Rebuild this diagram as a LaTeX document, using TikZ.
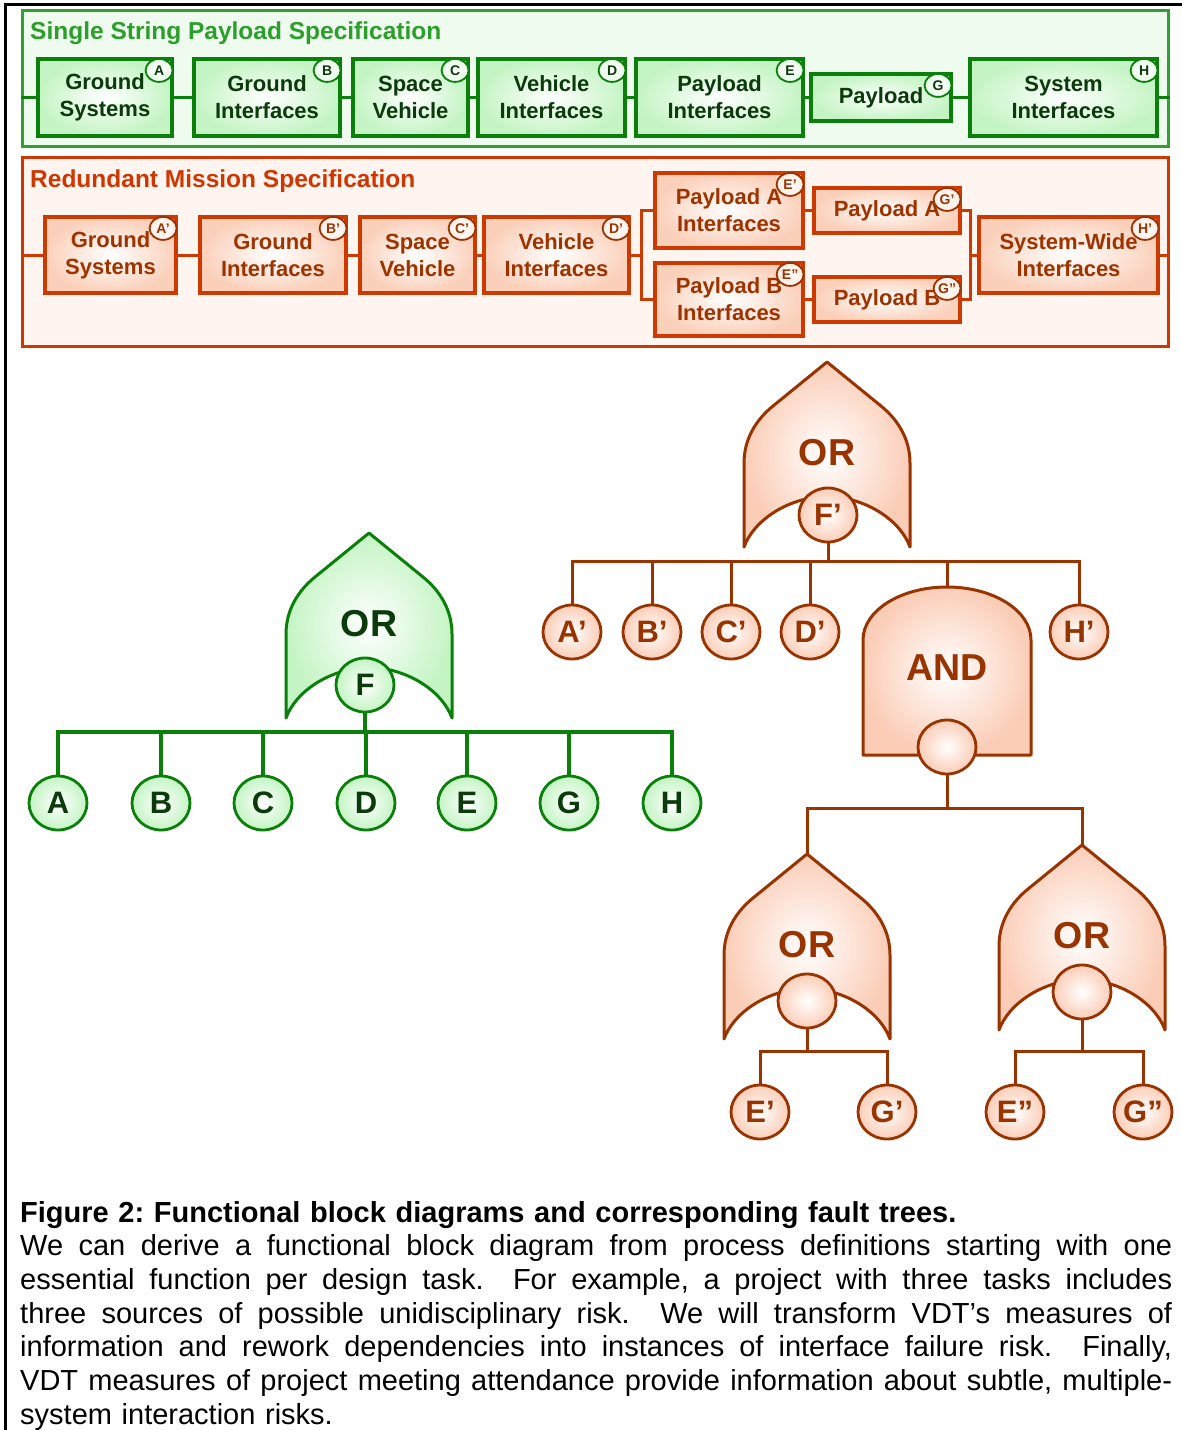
\documentclass[tikz,border=0pt]{standalone}
\usepackage{fontspec}
\setmainfont{Liberation Sans}
\usetikzlibrary{shapes.geometric,calc}

% palette
\definecolor{gouterc}{HTML}{30A030}
\definecolor{gbg}{HTML}{EFFBEF}
\definecolor{gedge}{HTML}{0A7F0A}
\definecolor{gfill}{HTML}{C4F4C4}
\definecolor{gtext}{HTML}{0B3A0B}
\definecolor{gtitle}{HTML}{2C9E2C}
\definecolor{routerc}{HTML}{D03600}
\definecolor{rbg}{HTML}{FFF5F0}
\definecolor{redge}{HTML}{CC3A00}
\definecolor{rfill}{HTML}{FBD0BA}
\definecolor{rtext}{HTML}{9E3300}
\definecolor{tline}{HTML}{993300}
\definecolor{tfill}{HTML}{FBCDB7}

\newcommand{\blockfont}{\fontsize{22}{27}\selectfont\bfseries}
\newcommand{\titlefont}{\fontsize{24.5}{28}\selectfont\bfseries}
\newcommand{\badgefont}{\fontsize{14}{16}\selectfont\bfseries}
\newcommand{\gatefont}{\fontsize{37.5}{40}\selectfont\bfseries}
\newcommand{\eventfont}{\fontsize{31}{34}\selectfont\bfseries}
\newcommand{\capfont}{\fontsize{29}{33.7}\selectfont\frenchspacing}
% one fully justified caption line
\newcommand{\capline}[1]{\leavevmode\hbox to 1152pt{\spaceskip=0.278em plus 1em minus 0.05em\relax #1}}

\tikzset{
  gouter/.style={draw=gouterc, line width=3pt, fill=gbg, inner sep=0pt},
  router/.style={draw=routerc, line width=3pt, fill=rbg, inner sep=0pt},
  gblock/.style={draw=gedge, line width=3.2pt, inner color=white, outer color=gfill,
    text=gtext, font=\blockfont, align=center, inner sep=0pt, minimum height=77pt},
  rblock/.style={draw=redge, line width=3.2pt, inner color=white, outer color=rfill,
    text=rtext, font=\blockfont, align=center, inner sep=0pt, minimum height=76pt},
  gconn/.style={draw=gedge, line width=3pt},
  rconn/.style={draw=redge, line width=3pt},
  gbadge/.style={ellipse, draw=gedge, line width=1.8pt, inner color=white, outer color=gfill!40,
    text=gtext, font=\badgefont, inner sep=0pt, minimum width=27pt, minimum height=23pt},
  rbadge/.style={ellipse, draw=tline, line width=1.8pt, inner color=white, outer color=rfill!40,
    text=rtext, font=\badgefont, inner sep=0pt, minimum width=27pt, minimum height=23pt},
  gtitlestyle/.style={text=gtitle, font=\titlefont, inner sep=0pt},
  rtitlestyle/.style={text=routerc, font=\titlefont, inner sep=0pt},
  % fault tree
  ggate/.style={draw=gedge, line width=3pt, line join=round, inner color=white, outer color=gfill},
  rgate/.style={draw=tline, line width=3pt, line join=round, inner color=white, outer color=tfill},
  ggatetext/.style={text=gtext, font=\gatefont, inner sep=0pt},
  rgatetext/.style={text=tline, font=\gatefont, inner sep=0pt},
  gevent/.style={ellipse, draw=gedge, line width=2.8pt, inner color=white, outer color=gfill,
    text=gtext, font=\eventfont, inner sep=0pt, minimum width=58pt, minimum height=54pt},
  revent/.style={ellipse, draw=tline, line width=2.8pt, inner color=white, outer color=tfill,
    text=tline, font=\eventfont, inner sep=0pt, minimum width=58pt, minimum height=54pt},
  gtree/.style={draw=gedge, line width=3.2pt},
  rtree/.style={draw=tline, line width=3pt},
  pics/orgate/.style={code={
    \path[#1] (0,0) -- (-54,44) .. controls (-70,57) and (-83,76) .. (-83,101)
      -- (-83,185) .. controls (-74,160) and (-42,136) .. (0,134)
      .. controls (42,136) and (74,160) .. (83,185)
      -- (83,101) .. controls (83,76) and (70,57) .. (54,44) -- cycle;
  }},
  pics/andgate/.style={code={
    \path[#1] (-84,168) -- (-84,53) .. controls (-84,23.7) and (-46.4,0) .. (0,0)
      .. controls (46.4,0) and (84,23.7) .. (84,53) -- (84,168) -- cycle;
  }},
}

\begin{document}
\begin{tikzpicture}[x=1pt,y=-1pt]
\fill[white] (0,0) rectangle (1182,1430);
\useasboundingbox (0,0) rectangle (1182,1430);

% page rules
\coordinate (frameBL) at (5.5,1430);
\coordinate (frameTL) at (5.5,4);
\coordinate (frameTR) at (1182,4);
\draw[line width=3pt] (frameBL) -- (frameTL) -- (frameTR);

% ---------- single string block diagram ----------
\node[gouter, minimum width=1146pt, minimum height=136pt] (gbox) at (595,78) {};
\node[gtitlestyle, anchor=base west] (gtitleT) at (30,39) {Single String Payload Specification};

\node[gblock, minimum width=134pt] (gA) at (105,97.5) {Ground\\Systems};
\node[gblock, minimum width=146pt] (gB) at (267,97.5) {Ground\\Interfaces};
\node[gblock, minimum width=115pt] (gC) at (410.5,97.5) {Space\\Vehicle};
\node[gblock, minimum width=147pt] (gD) at (551.5,97.5) {Vehicle\\Interfaces};
\node[gblock, minimum width=167pt] (gE) at (719.5,97.5) {Payload\\Interfaces};
\node[gblock, minimum width=140pt, minimum height=47pt] (gG) at (881,97.5) {Payload};
\node[gblock, minimum width=187pt] (gH) at (1063.5,97.5) {System\\Interfaces};

\draw[gconn] (gbox.west |- gA.west) -- (gA.west);
\draw[gconn] (gA.east) -- (gB.west);
\draw[gconn] (gB.east) -- (gC.west);
\draw[gconn] (gC.east) -- (gD.west);
\draw[gconn] (gD.east) -- (gE.west);
\draw[gconn] (gE.east) -- (gG.west);
\draw[gconn] (gG.east) -- (gH.west);
\draw[gconn] (gH.east) -- (gbox.east |- gH.east);

\foreach \b/\t in {gA/A,gB/B,gC/C,gD/D,gE/E,gG/G,gH/H}
  \node[gbadge] (badge-\b) at ([xshift=-14.5pt,yshift=-13pt]\b.north east) {\t};

% ---------- redundant mission block diagram ----------
\node[router, minimum width=1146pt, minimum height=189pt] (rbox) at (595,251.5) {};
\node[rtitlestyle, anchor=base west] (rtitleT) at (30,187.5) {Redundant Mission Specification};

\node[rblock, minimum width=131pt] (rA) at (110.5,255) {Ground\\Systems};
\node[rblock, minimum width=146pt] (rB) at (273,255) {Ground\\Interfaces};
\node[rblock, minimum width=115pt] (rC) at (417.5,255) {Space\\Vehicle};
\node[rblock, minimum width=145pt] (rD) at (556.5,255) {Vehicle\\Interfaces};
\node[rblock, minimum width=148pt, minimum height=75pt] (rE1) at (729,210.5) {Payload A\\Interfaces};
\node[rblock, minimum width=148pt, minimum height=73pt] (rE2) at (729,299.5) {Payload B\\Interfaces};
\node[rblock, minimum width=146pt, minimum height=45pt] (rG1) at (887,210.5) {Payload A};
\node[rblock, minimum width=146pt, minimum height=45pt] (rG2) at (887,299.5) {Payload B};
\node[rblock, minimum width=179pt] (rH) at (1068.5,255) {System-Wide\\Interfaces};

\coordinate (splitL) at (641,255);
\coordinate (joinR) at (970,255);
\draw[rconn] (rbox.west |- rA.west) -- (rA.west);
\draw[rconn] (rA.east) -- (rB.west);
\draw[rconn] (rB.east) -- (rC.west);
\draw[rconn] (rC.east) -- (rD.west);
\draw[rconn] (rD.east) -- (splitL);
\draw[rconn] (rE1.west) -| (splitL) |- (rE2.west);
\draw[rconn] (rE1.east) -- (rG1.west);
\draw[rconn] (rE2.east) -- (rG2.west);
\draw[rconn] (rG1.east) -| (joinR) |- (rG2.east);
\draw[rconn] (joinR) -- (rH.west);
\draw[rconn] (rH.east) -- (rbox.east |- rH.east);

\foreach \b/\t in {rA/A’,rB/B’,rC/C’,rD/D’,rE1/E’,rE2/E”,rG1/G’,rG2/G”,rH/H’}
  \node[rbadge] (badge-\b) at ([xshift=-14.5pt,yshift=-13pt]\b.north east) {\t};

% ---------- single string fault tree ----------
\coordinate (orF) at (369,533);
\pic at (orF) {orgate=ggate};
\node[ggatetext] (orFT) at (369,624) {OR};
\node[gevent] (F) at (365,685) {F};
\coordinate (busF) at (365,732);
\draw[gtree] (F.south) -- (busF);
\foreach \n/\x in {A/58,B/161,C/263,D/366,E/467,G/569,H/672}{
  \node[gevent] (\n) at (\x,803) {\n};
  \draw[gtree] (\n.north) |- (busF);
}

% ---------- redundant mission fault tree ----------
\coordinate (orFp) at (827,362);
\pic at (orFp) {orgate=rgate};
\node[rgatetext] (orFpT) at (827,453) {OR};
\node[revent] (Fp) at (828,515) {F’};
\coordinate (busFp) at (828,561);
\draw[rtree] (Fp.south) -- (busFp);
\foreach \n/\x/\t in {Ap/572/A’,Bp/652/B’,Cp/731/C’,Dp/810/D’,Hp/1079/H’}{
  \node[revent] (\n) at (\x,632) {\t};
  \draw[rtree] (\n.north) |- (busFp);
}

% AND gate
\coordinate (andTop) at (947,587);
\draw[rtree] (andTop) |- (busFp);
\pic at (andTop) {andgate=rgate};
\node[rgatetext] (andT) at (947,668) {AND};
\node[revent] (andC) at (947,747) {};
\coordinate (busAnd) at (947,808);
\draw[rtree] (andC.south) -- (busAnd);

% payload A branch
\coordinate (orL) at (807,854);
\draw[rtree] (orL) |- (busAnd);
\pic at (orL) {orgate=rgate};
\node[rgatetext] (orLT) at (807,945) {OR};
\node[revent] (orLC) at (807,1001) {};
\coordinate (busL) at (807,1051);
\draw[rtree] (orLC.south) -- (busL);
\node[revent] (Ep) at (760,1112) {E’};
\node[revent] (Gp) at (887,1112) {G’};
\draw[rtree] (Ep.north) |- (busL);
\draw[rtree] (Gp.north) |- (busL);

% payload B branch
\coordinate (orR) at (1082,845);
\draw[rtree] (orR) |- (busAnd);
\pic at (orR) {orgate=rgate};
\node[rgatetext] (orRT) at (1082,936) {OR};
\node[revent] (orRC) at (1082,992) {};
\coordinate (busR) at (1082,1051);
\draw[rtree] (orRC.south) -- (busR);
\node[revent] (Epp) at (1015,1112) {E”};
\node[revent] (Gpp) at (1143,1112) {G”};
\draw[rtree] (Epp.north) |- (busR);
\draw[rtree] (Gpp.north) |- (busR);

% ---------- caption ----------
\node[anchor=base west, text width=1152pt, inner sep=0pt, font=\capfont] (cap) at (20,1222) {%
\textbf{Figure 2: Functional block diagrams and corresponding fault trees.}\\
\capline{We can derive a functional block diagram from process definitions starting with one}\\
\capline{essential function per design task. \ For example, a project with three tasks includes}\\
\capline{three sources of possible unidisciplinary risk. \ We will transform VDT’s measures of}\\
\capline{information and rework dependencies into instances of interface failure risk. \ Finally,}\\
\capline{VDT measures of project meeting attendance provide information about subtle, multiple-}\\
system interaction risks.};
\end{tikzpicture}
\end{document}
